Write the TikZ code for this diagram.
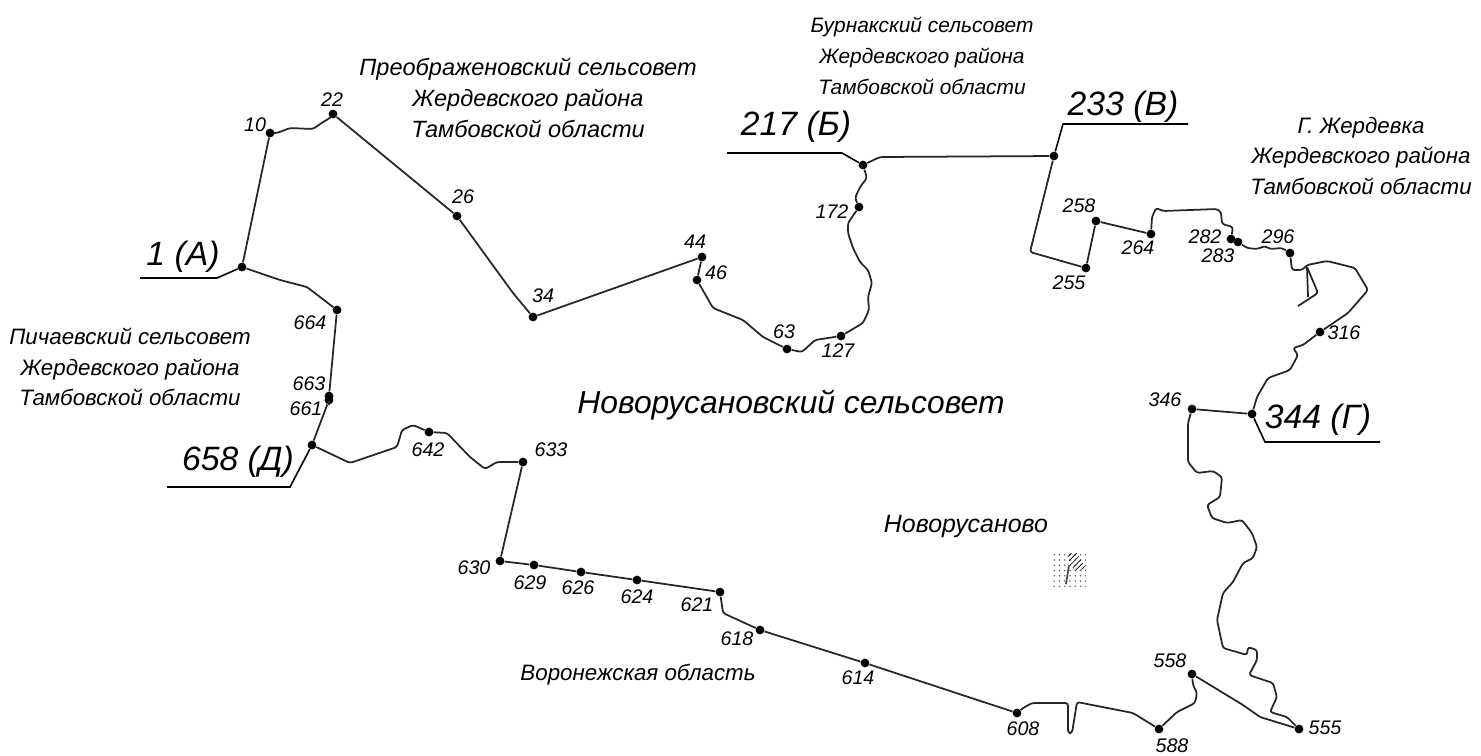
\documentclass[tikz,border=0pt]{standalone}
\usepackage{fontspec}
\usetikzlibrary{patterns}
\setmainfont{Liberation Sans}
\tikzset{
  vertex/.style={circle,fill=black,inner sep=0pt,minimum size=5pt},
  border/.style={line width=1pt,black!85,line join=round,rounded corners=1.5pt},
  leader/.style={line width=0.9pt,black},
  num/.style={inner sep=0pt,font=\fontsize{11.2}{12}\selectfont\itshape},
  corner/.style={inner sep=0pt,font=\fontsize{19.2}{20}\selectfont\itshape},
  region/.style={inner sep=0pt,align=center,font=\fontsize{12.7}{17.5}\selectfont\itshape},
}
\begin{document}
\begin{tikzpicture}[x=0.02cm,y=-0.02cm]
\useasboundingbox (0,0) rectangle (1481,755);

% boundary points
\foreach \name/\x/\y in {1/242/267,10/270/133,22/333/114,26/457/216,34/533/317,44/702/257,46/697/280,
    63/787/349,127/841/336,172/859/207,217/863/165,233/1054/156,255/1086/268,258/1096/221,264/1151/234,
    282/1231/239,283/1238/242,296/1290/253,316/1320/332,344/1252/414,346/1192/409,555/1299/729,558/1192/674,
    588/1159/729,608/1017/713,614/865/663,618/760/630,621/720/592,624/637/580,626/581/572,629/534/565,
    630/500/561,633/523/462,642/429/432,658/312/445,661/329/400,663/329/396,664/337/310}
    \node[vertex] (p\name) at (\x,\y) {};

% point numbers
\foreach \name/\x/\y in {10/255/125,22/332/100,26/463/197,34/543/296,44/695/242,46/716/273,63/784/332,
    127/838/351,172/832/212,255/1069/283,258/1079/206,264/1138/248,282/1205/237,283/1218/256,296/1278/237,
    316/1344/333,346/1165/400,555/1325/728,558/1170/661,588/1172/746,608/1023/729,614/858/678,618/737/639,
    621/697/605,624/637/597,626/578/588,629/530/583,630/474/568,633/551/450,642/428/450,661/306/409,
    663/309/384,664/310/323}
    \node[num] (n\name) at (\x,\y) {\name};

% corner labels with their leaders
\node[corner] (la) at (183,257) {1 (А)};
\node[corner] (lb) at (796,127) {217 (Б)};
\node[corner] (lv) at (1123,107) {233 (В)};
\node[corner] (lg) at (1318,420) {344 (Г)};
\node[corner] (ld) at (238,462) {658 (Д)};

\coordinate (lea) at (140,278);
\coordinate (leb) at (727,153);
\coordinate (lev) at (1188,124);
\coordinate (leg) at (1380,442);
\coordinate (led) at (167,487);

\draw[leader] (lea) -- (217,278) -- (p1);
\draw[leader] (leb) -- (842,153) -- (p217);
\draw[leader] (lev) -- (1063,124) -- (p233);
\draw[leader] (leg) -- (1265,442) -- (p344);
\draw[leader] (led) -- (290,487) -- (p658);

% region names
\node[region,font=\fontsize{13.4}{17.5}\selectfont\itshape] (preob) at (528,98) {Преображеновский сельсовет\\Жердевского района\\Тамбовской области};
\node[region,font=\fontsize{11.9}{17.5}\selectfont\itshape] (burn) at (922,56) {Бурнакский сельсовет\\Жердевского района\\Тамбовской области};
\node[region] (zherd) at (1361,156) {Г. Жердевка\\Жердевского района\\Тамбовской области};
\node[region] (pich) at (130,367) {Пичаевский сельсовет\\Жердевского района\\Тамбовской области};
\node[region] (voron) at (638,675) {Воронежская область};
\node[region,font=\fontsize{14.2}{18}\selectfont\itshape] (nov) at (966,526) {Новорусаново};
\node[corner,font=\fontsize{18.1}{20}\selectfont\itshape] (novs) at (791,405) {Новорусановский сельсовет};

% the boundary
\draw[border] (p1) -- (p10);
\draw[border] (p10) -- (277,133) -- (290,128) -- (313,129) -- (323,122) -- (330,118) -- (p22);
\draw[border] (p22) -- (p26);
\draw[border] (p26) -- (513,293) -- (p34);
\draw[border] (p34) -- (p44);
\draw[border] (p44) -- (p46);
\draw[border] (p46) -- (713,308) -- (743,320) -- (763,337) -- (p63);
\draw[border] (p63) -- (802,352) -- (815,340) -- (p127);
\draw[border] (p127) -- (863,323) -- (869,310) -- (868,297) -- (872,283) -- (868,270) -- (860,262)
    -- (853,248) -- (848,233) -- (848,223) -- (p172);
\draw[border] (p172) -- (855,198) -- (860,187) -- (867,178) -- (p217);
\draw[border] (p217) -- (880,157) -- (p233);
\draw[border] (p233) -- (1030,252) -- (p255);
\draw[border] (p255) -- (p258);
\draw[border] (p258) -- (p264);
\draw[border] (p264) -- (1152,217) -- (1156,208) -- (1163,211) -- (1217,209) -- (1221,212) -- (1222,224)
    -- (1233,227) -- (p282);
\draw[border] (p282) -- (p283);
\draw[border] (p283) -- (1247,248) -- (1257,249) -- (1265,246) -- (1270,249) -- (1282,248) -- (p296);
\draw[border] (p296) -- (1292,270) -- (1302,270) -- (1307,265) -- (1327,261) -- (1355,268) -- (1368,290)
    -- (1348,313) -- (p316);
\draw[border] (1307,267) -- (1318,293) -- (1298,306);
\draw[border] (1307,267) -- (1308,297);
\draw[border] (p316) -- (1303,345) -- (1293,348) -- (1298,355) -- (1290,370) -- (1268,378) -- (1257,397) -- (p344);
\draw[border] (p344) -- (p346);
\draw[border] (p346) -- (1188,423) -- (1188,462) -- (1197,473) -- (1213,471) -- (1222,477) -- (1220,497)
    -- (1207,505) -- (1212,518) -- (1227,523) -- (1242,520) -- (1252,533) -- (1257,547) -- (1253,558)
    -- (1243,563) -- (1233,582) -- (1223,593) -- (1217,620) -- (1223,648) -- (1247,655) -- (1248,647)
    -- (1257,650) -- (1257,660) -- (1249,675) -- (1273,683) -- (1277,697) -- (1270,712) -- (1287,717) -- (p555);
\draw[border] (p555) -- (1260,717) -- (1243,705) -- (p558);
\draw[border] (p558) -- (1193,685) -- (1197,693) -- (1195,703) -- (1177,712) -- (p588);
\draw[border] (p588) -- (1133,713) -- (1077,702) -- (1072,733) -- (1068,733) -- (1068,703) -- (1032,703)
    -- (1023,708) -- (p608);
\draw[border] (p608) -- (p614);
\draw[border] (p614) -- (p618);
\draw[border] (p618) -- (723,613) -- (p621);
\draw[border] (p621) -- (p624);
\draw[border] (p624) -- (p626);
\draw[border] (p626) -- (p629);
\draw[border] (p629) -- (p630);
\draw[border] (p630) -- (p633);
\draw[border] (p633) -- (497,462) -- (485,469) -- (470,457) -- (447,433) -- (p642);
\draw[border] (p642) -- (413,425) -- (402,430) -- (397,447) -- (350,463) -- (p658);
\draw[border] (p658) -- (p661);
\draw[border] (p661) -- (p663);
\draw[border] (p663) -- (p664);
\draw[border] (p664) -- (307,287) -- (280,280) -- (p1);

% settlement mark
\fill[pattern=dots,pattern color=black!60] (1052,551) rectangle (1086,586);
\fill[pattern=north east lines,pattern color=black] (1067,553) -- (1077,553) -- (1085,567) -- (1078,572) -- (1070,565) -- cycle;
\draw[line width=1pt,black!70] (1069,565) -- (1066,584);
\end{tikzpicture}
\end{document}
